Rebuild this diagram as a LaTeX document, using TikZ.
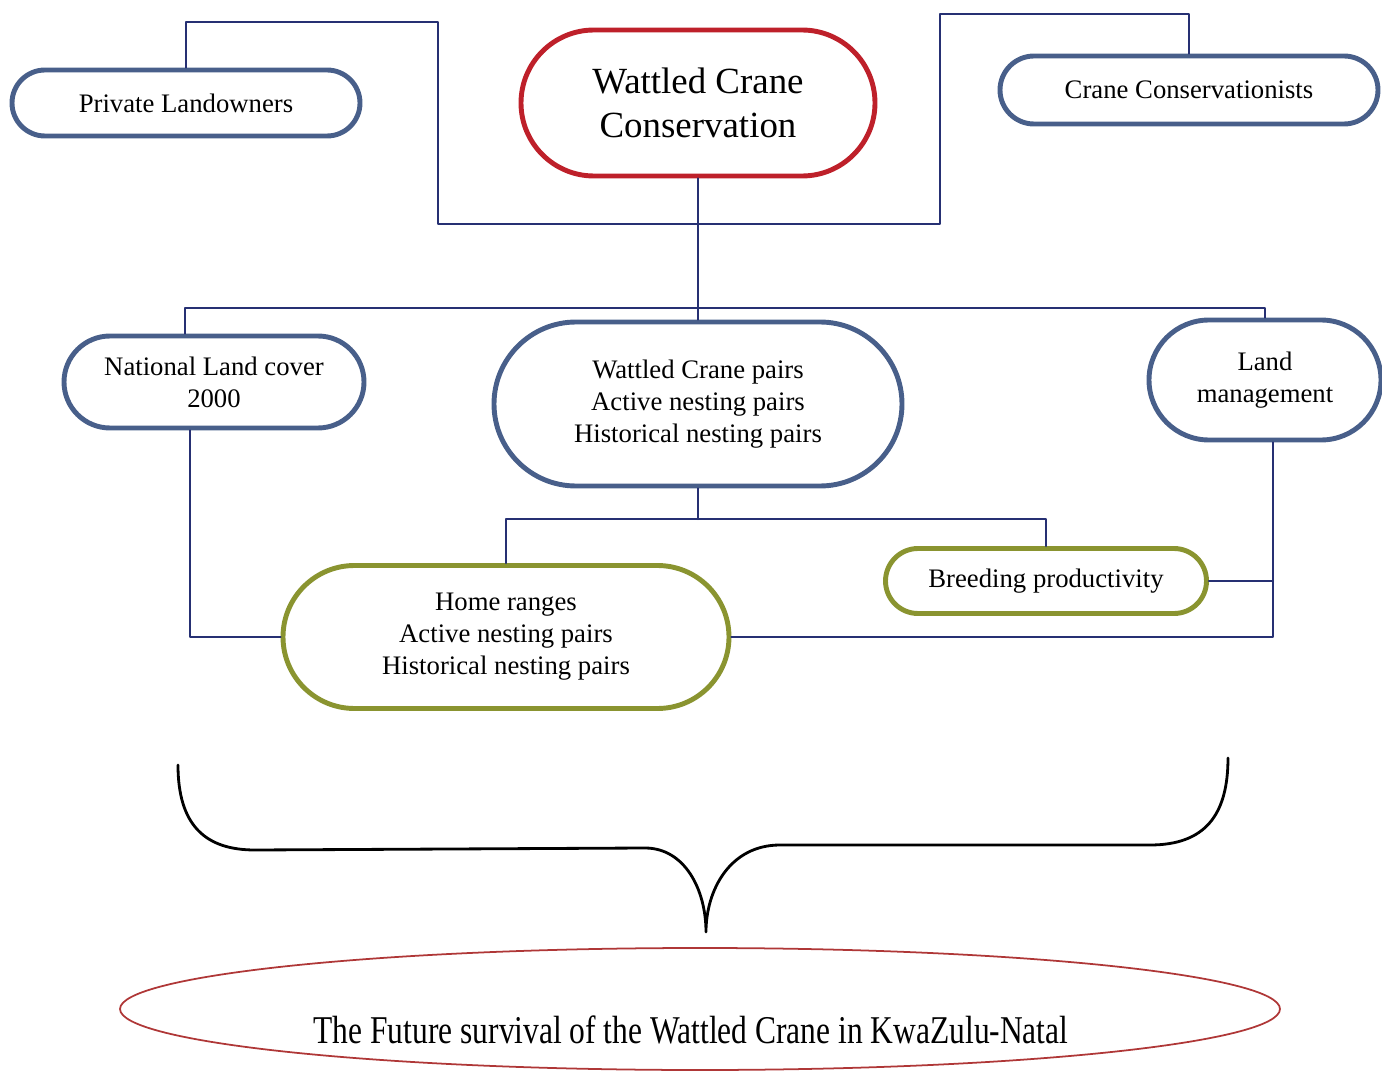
\documentclass[tikz,border=0pt]{standalone}
\usepackage{fontspec}
\setmainfont{Liberation Serif}
\usepackage{graphicx}
\usetikzlibrary{calc}
\usetikzlibrary{shapes.misc, shapes.geometric}

\definecolor{boxblue}{RGB}{72,95,138}
\definecolor{boxred}{RGB}{190,32,42}
\definecolor{boxolive}{RGB}{138,148,48}
\definecolor{linkblue}{RGB}{38,48,115}
\definecolor{goalred}{RGB}{175,55,55}

\begin{document}
\begin{tikzpicture}[
  line cap=round,
  line join=round,
  every node/.style={font=\fontsize{7.6}{9.1}\selectfont, align=center},
  pill/.style={draw, rounded rectangle, line width=1.4pt, fill=white, inner sep=0pt},
  bluepill/.style={pill, draw=boxblue},
  redpill/.style={pill, draw=boxred},
  olivepill/.style={pill, draw=boxolive},
  link/.style={draw=linkblue, line width=0.6pt},
  brace/.style={draw=black, line width=0.8pt}
]
\useasboundingbox (0,0) rectangle (13.82,10.70);

% Top row
\node[bluepill, minimum width=3.48cm, minimum height=0.66cm] (pl) at (1.86,9.67) {Private Landowners};
\node[redpill, minimum width=3.54cm, minimum height=1.46cm, font=\fontsize{10.5}{12.5}\selectfont] (wcc) at (6.98,9.67) {Wattled Crane\\Conservation};
\node[bluepill, minimum width=3.78cm, minimum height=0.68cm] (cc) at (11.89,9.80) {Crane Conservationists};

% Middle row
\node[bluepill, minimum width=3.00cm, minimum height=0.92cm] (nlc) at (2.14,6.88) {National Land cover\\2000};
\node[bluepill, minimum width=4.08cm, minimum height=1.64cm] (pairs) at (6.98,6.66) {Wattled Crane pairs\\Active nesting pairs\\Historical nesting pairs};
\node[bluepill, minimum width=2.32cm, minimum height=1.20cm] (lm) at (12.65,6.90) {Land\\management};

% Lower row
\node[olivepill, minimum width=4.46cm, minimum height=1.43cm] (hr) at (5.06,4.33) {Home ranges\\Active nesting pairs\\Historical nesting pairs};
\node[olivepill, minimum width=3.21cm, minimum height=0.65cm] (bp) at (10.46,4.89) {Breeding productivity};

% Top links
\coordinate (lbend) at (4.38,10.48);
\coordinate (lfoot) at (4.38,8.46);
\coordinate (rfoot) at (9.40,8.46);
\coordinate (rbend) at (9.40,10.56);
\draw[link] (pl.north) |- (lbend) -- (lfoot) -- (rfoot) -- (rbend) -| (cc.north);
\draw[link] (wcc.south) -- (pairs.north);

% Middle bar
\coordinate (bar) at (6.98,7.62);
\coordinate (nlctop) at ($(nlc.north)+(-0.29,0)$);
\draw[link] (nlctop) |- (bar) -| (lm.north);

% Lower links
\coordinate (split) at (6.98,5.51);
\draw[link] (pairs.south) -- (split);
\draw[link] (hr.north) |- (split) -| (bp.north);
\coordinate (nlcfoot) at ($(nlc.south)+(-0.24,0)$);
\draw[link] (nlcfoot) |- (hr.west);
\coordinate (lmfoot) at ($(lm.south)+(0.08,0)$);
\draw[link] (hr.east) -| (lmfoot);
\draw[link] (bp.east) -- (bp.east -| lmfoot);

% Brace
\draw[brace] (1.78,3.05) .. controls (1.78,2.45) and (2.05,2.20) .. (2.55,2.20)
  -- (6.45,2.22) .. controls (6.85,2.22) and (7.06,1.80) .. (7.06,1.38)
  .. controls (7.06,1.80) and (7.30,2.25) .. (7.80,2.25)
  -- (11.50,2.25) .. controls (12.05,2.25) and (12.28,2.55) .. (12.28,3.12);

% Goal
\node[ellipse, draw=goalred, line width=0.5pt, minimum width=11.6cm, minimum height=1.22cm] (goal) at (7.00,0.61) {};
\node (goaltext) at (6.91,0.40) {\fontsize{11.2}{13}\selectfont\scalebox{0.8}[1]{The Future survival of the Wattled Crane in KwaZulu-Natal}};

\end{tikzpicture}
\end{document}
